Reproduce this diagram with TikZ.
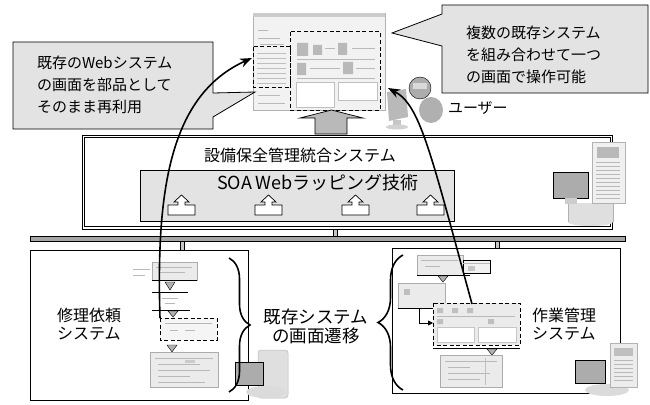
\documentclass[tikz,border=0pt]{standalone}
\usepackage{fontspec}
\setmainfont{Noto Sans CJK JP}
\usetikzlibrary{arrows.meta,decorations.pathreplacing}
\begin{document}
\begin{tikzpicture}[x=1pt,y=-1pt,
  every node/.style={inner sep=0pt,outer sep=0pt},
  bubble/.style={draw=black,line width=0.8pt,fill=gray!22},
  frame/.style={draw=black,line width=0.8pt,fill=white},
  thumb/.style={draw=gray!65,line width=0.5pt,fill=gray!16},
  dashbox/.style={draw=black,line width=1pt,dash pattern=on 4pt off 2.5pt},
  tick/.style={draw=gray!55,line width=0.6pt},
  dark/.style={fill=gray!55},
  tri/.style={fill=gray!60,draw=black,line width=0.4pt},
  rule/.style={draw=black,line width=0.7pt},
  flow/.style={line width=1.6pt,-{Stealth[length=12pt,width=9pt]}},
  brace/.style={line width=1.6pt,decorate},
  label/.style={font=\fontsize{16}{18}\selectfont,align=left},
  note/.style={font=\fontsize{15}{22}\selectfont,align=left},
  link/.style={draw=black,fill=gray!45,line width=0.5pt},
  uparrow/.pic={
    \draw[draw=black,fill=white,line width=0.7pt]
      (0,20) -- (0,10) -- (10,10) -- (10,7) -- (6,7) -- (13.5,0) -- (21,7)
      -- (17,7) -- (17,10) -- (27,10) -- (27,20) -- cycle;
  }
]
\useasboundingbox (0,0) rectangle (650,404);
\fill[white] (0,0) rectangle (650,404);

% ---------- combined portal screen ----------
\node[draw=gray!60,fill=gray!10,line width=0.6pt,minimum width=132pt,minimum height=97pt,anchor=north west] (portal) at (253,13) {};
\fill[gray!40] (253,13) rectangle (385,17);
\draw[tick] (258,30) -- (268,30) (258,38) -- (280,38) (260,44) -- (284,44);
\draw[tick] (258,95) -- (280,95) (258,103) -- (285,103);
\foreach \yy in {53,58,...,83} \draw[gray!50,line width=0.5pt] (257,\yy) -- (286,\yy);
\draw[dashbox] (253,47) rectangle (290,87);
\fill[dark] (297,43) rectangle (308,56) (313,45) rectangle (322,55) (338,43) rectangle (347,55)
            (297,63) rectangle (306,75) (343,62) rectangle (353,74);
\draw[tick] (325,48) -- (335,48) (352,48) -- (375,48) (297,59) -- (375,59)
            (310,68) -- (340,68) (356,68) -- (375,68) (297,78) -- (375,78);
\draw[gray!50,fill=white,line width=0.5pt] (296,82) rectangle (334,107) (338,82) rectangle (377,100);
\draw[dashbox] (290,32) rectangle (380,110);

% big arrow from the integration system to the portal
\draw[draw=black,fill=gray!55,line width=0.7pt]
  (315,134) -- (315,118) -- (300,118) -- (331.5,110) -- (363,118) -- (347,118) -- (347,134) -- cycle;

% ---------- callouts ----------
\draw[bubble] (13,42) -- (213,42) -- (213,93) -- (255,92) -- (213,117) -- (213,129) -- (13,129) -- cycle;
\node[note,anchor=west] (noteL) at (37,85) {既存のWebシステム\\の画面を部品として\\そのまま再利用};
\draw[bubble] (442,5) -- (648,5) -- (648,93) -- (442,93) -- (442,46) -- (392,33) -- (442,14) -- cycle;
\node[note,anchor=west] (noteR) at (466,55) {複数の既存システム\\を組み合わせて一つ\\の画面で操作可能};

% ---------- user at a terminal ----------
\fill[gray!55] (387,92) -- (406,89) -- (408,117) -- (389,121) -- cycle;
\fill[gray!45] (393,120) rectangle (401,126);
\fill[gray!35] (397,127) ellipse (11pt and 2.5pt);
\fill[gray!62] (431,110) ellipse (12pt and 13pt);
\draw[black,line width=0.4pt,fill=gray!65] (420,88) circle (11pt);
\fill[gray!30] (413,83) rectangle (427,89);
\node[font=\fontsize{15}{18}\selectfont,anchor=west] (user) at (448,108) {ユーザー};

% ---------- integration system ----------
\node[draw=black,line width=0.6pt,minimum width=530.5pt,minimum height=94pt,anchor=north west] (hubbox) at (82,135) {};
\draw[line width=0.6pt] (84.5,137.5) rectangle (610,226.5);
\node[font=\fontsize{16}{18}\selectfont] (hub) at (300,155) {設備保全管理統合システム};
\node[draw=black,fill=gray!22,line width=0.7pt,minimum width=314pt,minimum height=51pt,anchor=north west] (soabox) at (140,170) {};
\node[font=\fontsize{18}{18}\selectfont] (soa) at (318,183) {SOA Webラッピング技術};
\pic at (168,195) {uparrow};
\pic at (255,195) {uparrow};
\pic at (342,195) {uparrow};
\pic at (417,195) {uparrow};

% server group
\fill[gray!25] (568,203) rectangle (613,222);
\fill[gray!25] (590.5,222) ellipse (22.5pt and 4pt);
\draw[gray!60,line width=0.5pt] (568,203) -- (568,222) (613,203) -- (613,222);
\draw[gray!60,fill=gray!12,line width=0.5pt] (592,142) rectangle (625,203);
\fill[gray!55] (597,147) rectangle (619,158);
\foreach \yy in {162,166,...,198} \draw[gray!55,line width=0.5pt] (596,\yy) -- (620,\yy);
\draw[black,line width=0.4pt,fill=gray!65] (553,172) rectangle (588,198);
\fill[gray!40] (565,198) rectangle (577,204);

% ---------- network bus ----------
\draw[link] (333.5,229) rectangle (337,236);
\draw[draw=black,fill=gray!70,line width=0.7pt] (30,236) rectangle (625,241);
\draw[link] (180.5,241) rectangle (184,250);
\draw[link] (495.5,241) rectangle (499,248);

% ---------- repair request system ----------
\draw[frame] (30,250) rectangle (248,400);
\node[label,anchor=west] (repair) at (57,324) {修理依頼\\システム};
% screen flow
\node[thumb,minimum width=45pt,minimum height=18pt,anchor=north west] (r1) at (152,262) {};
\draw[tick] (156,267) -- (192,267) (160,272) -- (185,272);
\draw[tick] (133,269) -- (150,269) (133,275) -- (145,275);
\draw[rule] (152,280) -- (197,280);
\path[tri] (165,282) -- (175,282) -- (170,290) -- cycle;
\draw[rule] (152,292) -- (188,292);
\draw[tick] (162,298) -- (178,298) (165,303) -- (175,303);
\draw[rule] (152,310) -- (190,310);
\path[tri] (168,311) -- (178,311) -- (173,317) -- cycle;
\node[fill=gray!8,minimum width=57pt,minimum height=22pt,anchor=north west] (r3) at (160,318) {};
\draw[tick] (165,323) -- (212,323) (170,330) -- (178,330) (185,330) -- (195,330);
\draw[dashbox] (160,318) rectangle (217,340);
\path[tri] (167,345) -- (177,345) -- (172,352) -- cycle;
\node[thumb,minimum width=68pt,minimum height=35pt,anchor=north west] (r4) at (150,352) {};
\draw[tick] (155,358) -- (213,358) (158,364) -- (200,364) (158,370) -- (210,370) (158,376) -- (190,376) (158,382) -- (205,382);
\fill[gray!40] (185,360) rectangle (195,363);
% workstation
\draw[gray!55,fill=gray!25,line width=0.5pt,rounded corners=3pt] (258,350) rectangle (288,398);
\fill[gray!28] (266,392) ellipse (20pt and 6pt);
\draw[black,line width=0.5pt,fill=gray!65] (235,362) rectangle (263,385);
\draw[brace,decoration={brace,amplitude=21pt}] (229,258) -- (229,392);

% ---------- screen transition label ----------
\node[font=\fontsize{17.5}{19}\selectfont,align=center] (trans) at (316,326) {既存システム\\の画面遷移};

% ---------- work management system ----------
\draw[frame] (392,248) rectangle (620,393);
\node[label,anchor=west] (work) at (532,324) {作業管理\\システム};
\draw[brace,decoration={brace,amplitude=25pt}] (403,390) -- (403,255);
\node[thumb,minimum width=46pt,minimum height=20pt,anchor=north west] (w1) at (417,255) {};
\draw[tick] (421,260) -- (458,260) (425,266) -- (440,266);
\draw[rule] (417,275) -- (470,275);
\node[draw=black,fill=gray!10,line width=0.5pt,minimum width=27pt,minimum height=13pt,anchor=north west] (pop) at (463,260) {};
\draw[tick] (463,263) -- (490,263);
\fill[gray!45] (468,266) rectangle (475,271);
\path[tri] (438,276) -- (448,276) -- (443,282) -- cycle;
\node[thumb,minimum width=47pt,minimum height=25pt,anchor=north west] (w2) at (398,283) {};
\fill[gray!50] (404,289) rectangle (410,295);
\draw[rule] (398,308) -- (435,308);
\node[fill=gray!16,minimum width=87pt,minimum height=42pt,anchor=north west] (w3) at (433,303) {};
\fill[gray!50] (437,308) rectangle (443,313) (452,308) rectangle (458,313) (467,308) rectangle (473,313)
              (437,319) rectangle (443,324) (488,319) rectangle (494,324);
\draw[tick] (437,316) -- (515,316);
\draw[gray!45,fill=white,line width=0.5pt] (437,327) rectangle (474,342) (478,327) rectangle (516,342);
\draw[dashbox] (433,303) rectangle (520,345);
\draw[rule] (433,348) -- (520,348);
\draw[line width=0.8pt,-{Triangle[length=5pt,width=5pt]}] (w2.south west -| 419,310) |- (w3.west |- 0,323);
\path[tri] (487,349) -- (497,349) -- (492,355) -- cycle;
\node[thumb,minimum width=62pt,minimum height=32pt,anchor=north west] (w4) at (440,355) {};
\draw[tick] (445,361) -- (497,361) (448,367) -- (470,367) (448,373) -- (490,373) (448,379) -- (480,379);
\draw[gray!50,line width=0.5pt] (485,358) -- (485,385);
% workstation
\fill[gray!28] (607,390) ellipse (22pt and 6pt);
\draw[gray!60,fill=gray!15,line width=0.5pt] (610,343) rectangle (637,387);
\fill[gray!50] (614,348) rectangle (633,356);
\foreach \yy in {360,364,...,380} \draw[gray!55,line width=0.5pt] (614,\yy) -- (633,\yy);
\draw[black,line width=0.5pt,fill=gray!65] (575,360) rectangle (605,383);

% ---------- reuse paths into the portal ----------
\coordinate (fromRepair) at (160,318);
\coordinate (intoPortalL) at (252,58);
\coordinate (fromWork) at (472,304);
\coordinate (intoPortalR) at (388,88);
\draw[flow] (fromRepair) .. controls (156,190) and (170,95) .. (intoPortalL);
\draw[flow] (fromWork) .. controls (430,150) and (420,105) .. (intoPortalR);
\end{tikzpicture}
\end{document}
